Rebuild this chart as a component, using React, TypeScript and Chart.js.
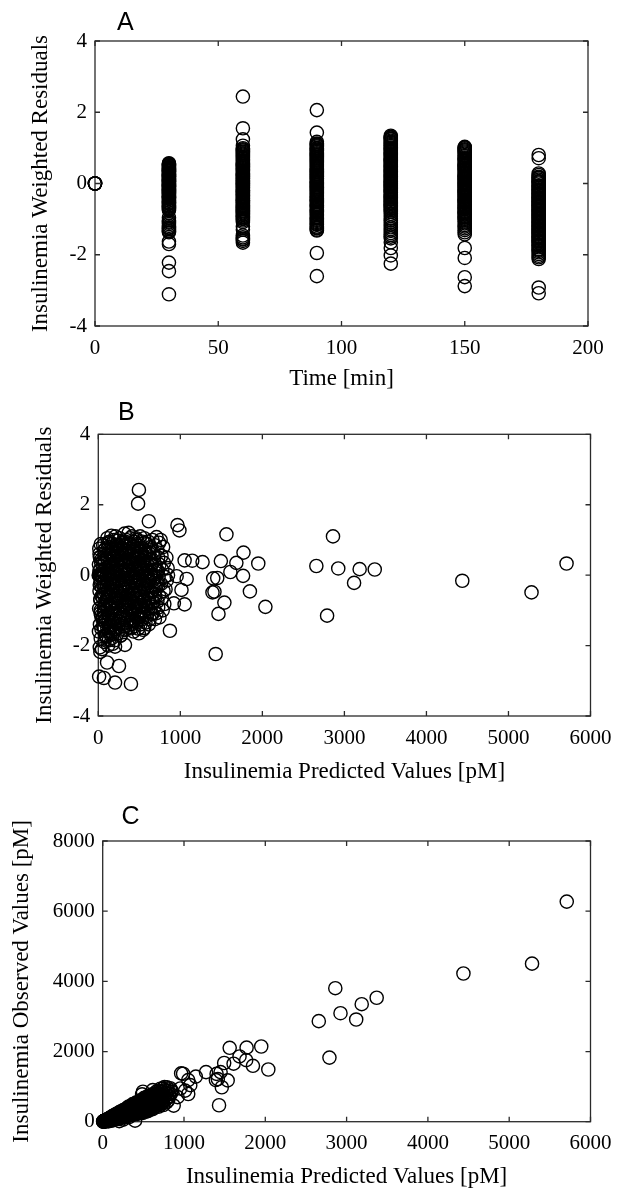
import React, { useEffect, useRef } from 'react';
import { Chart, registerables } from 'chart.js';

Chart.register(...registerables);

const SERIF = "'Liberation Serif', 'Times New Roman', Times, serif";
const SANS = "'Liberation Sans', Arial, Helvetica, sans-serif";

// ---------- Panel A: weighted residuals vs time ----------
const timeCategories = [0, 30, 60, 90, 120, 150, 180];
const resA0 = [0, 0, 0, 0, 0, 0];
const resA30 = [0.57, 0.55, 0.52, 0.5, 0.46, 0.44, 0.41, 0.38, 0.36, 0.33, 0.31, 0.27, 0.25, 0.22, 0.19, 0.17, 0.13, 0.11, 0.08, 0.05, 0.03, -0.01, -0.03, -0.06, -0.09, -0.11, -0.15, -0.17, -0.2, -0.24, -0.27, -0.3, -0.33, -0.37, -0.4, -0.44, -0.47, -0.52, -0.56, -0.61, -0.65, -0.7, -0.75, -0.96, -1.03, -1.07, -1.14, -1.19, -1.23, -1.28, -1.32, -1.37, -1.63, -1.7, -2.22, -2.46, -3.11,
  0.54, 0.49, 0.43, 0.39, 0.35, 0.29, 0.24, 0.2, 0.15, 0.1, 0.06, 0.01, -0.04, -0.08, -0.13, -0.18, -0.22, -0.25, -0.29, -0.35, -0.38, -0.42, -0.49, -0.54, -0.58, -0.63, -0.68, -0.72, -1.1, -1.25, -1.34];
const resA60 = [2.44, 1.55, 1.24, 1.06, 0.99, 0.93, 0.87, 0.84, 0.78, 0.75, 0.69, 0.66, 0.6, 0.57, 0.53, 0.48, 0.45, 0.4, 0.37, 0.32, 0.29, 0.25, 0.2, 0.17, 0.13, 0.08, 0.05, 0.01, -0.03, -0.07, -0.1, -0.15, -0.18, -0.22, -0.26, -0.29, -0.34, -0.38, -0.41, -0.46, -0.5, -0.55, -0.59, -0.64, -0.68, -0.73, -0.78, -0.84, -0.89, -0.95, -1.0, -1.08, -1.21, -1.3, -1.46, -1.51, -1.57, -1.61, -1.66,
  0.96, 0.9, 0.81, 0.72, 0.63, 0.55, 0.5, 0.43, 0.35, 0.27, 0.22, 0.15, 0.1, 0.03, -0.01, -0.05, -0.12, -0.2, -0.24, -0.31, -0.36, -0.43, -0.48, -0.53, -0.62, -0.66, -0.71, -0.76, -0.81, -0.87, -0.92, -0.98, -1.04, -1.55];
const resA90 = [2.06, 1.43, 1.17, 1.12, 1.07, 1.04, 0.98, 0.95, 0.91, 0.85, 0.82, 0.76, 0.73, 0.67, 0.64, 0.58, 0.55, 0.49, 0.46, 0.4, 0.37, 0.31, 0.28, 0.22, 0.18, 0.13, 0.1, 0.04, 0.0, -0.05, -0.09, -0.14, -0.19, -0.23, -0.29, -0.32, -0.38, -0.42, -0.47, -0.53, -0.57, -0.62, -0.68, -0.72, -0.78, -0.83, -0.89, -0.94, -0.99, -1.05, -1.11, -1.16, -1.21, -1.26, -1.32, -1.95, -2.6,
  1.1, 1.0, 0.93, 0.88, 0.79, 0.7, 0.61, 0.52, 0.43, 0.34, 0.25, 0.2, 0.15, 0.07, 0.02, -0.03, -0.11, -0.17, -0.26, -0.35, -0.45, -0.5, -0.6, -0.65, -0.75, -0.8, -0.86, -0.97, -1.02, -1.08, -1.14, -1.24, -1.3];
const resA120 = [1.34, 1.29, 1.24, 1.2, 1.14, 1.11, 1.05, 1.01, 0.97, 0.91, 0.88, 0.82, 0.77, 0.74, 0.68, 0.64, 0.58, 0.55, 0.49, 0.44, 0.41, 0.35, 0.3, 0.27, 0.21, 0.16, 0.13, 0.07, 0.02, -0.02, -0.08, -0.11, -0.17, -0.21, -0.26, -0.3, -0.36, -0.4, -0.46, -0.5, -0.56, -0.61, -0.66, -0.72, -0.79, -0.91, -0.99, -1.04, -1.16, -1.23, -1.33, -1.39, -1.49, -1.54, -1.65, -1.81, -2.02, -2.25,
  1.31, 1.26, 1.17, 1.08, 0.99, 0.94, 0.85, 0.8, 0.71, 0.66, 0.61, 0.52, 0.47, 0.38, 0.33, 0.24, 0.19, 0.1, 0.05, 0.0, -0.05, -0.14, -0.19, -0.24, -0.33, -0.38, -0.43, -0.53, -0.58, -0.64, -0.69, -0.75, -0.85, -1.1, -1.28, -1.44];
const resA150 = [1.03, 0.99, 0.93, 0.9, 0.84, 0.8, 0.73, 0.69, 0.62, 0.58, 0.52, 0.48, 0.42, 0.37, 0.33, 0.27, 0.21, 0.17, 0.12, 0.06, 0.02, -0.03, -0.09, -0.13, -0.19, -0.23, -0.27, -0.34, -0.38, -0.44, -0.48, -0.52, -0.59, -0.63, -0.69, -0.73, -0.8, -0.84, -0.91, -0.96, -1.02, -1.12, -1.21, -1.31, -1.43, -1.81, -2.09, -2.63, -2.88,
  1.01, 0.96, 0.87, 0.77, 0.71, 0.65, 0.55, 0.5, 0.45, 0.39, 0.3, 0.24, 0.19, 0.14, 0.09, 0.04, -0.01, -0.06, -0.11, -0.16, -0.21, -0.25, -0.31, -0.36, -0.41, -0.46, -0.5, -0.55, -0.61, -0.66, -0.71, -0.77, -0.82, -0.87, -0.94, -0.99, -1.07, -1.17, -1.26, -1.37];
const resA180 = [0.8, 0.71, 0.28, 0.19, 0.15, 0.07, 0.03, -0.05, -0.09, -0.16, -0.2, -0.27, -0.31, -0.38, -0.42, -0.49, -0.53, -0.6, -0.64, -0.71, -0.75, -0.82, -0.86, -0.93, -0.97, -1.04, -1.08, -1.15, -1.19, -1.26, -1.3, -1.37, -1.41, -1.48, -1.52, -1.59, -1.63, -1.71, -1.75, -1.84, -1.89, -1.98, -2.03, -2.12, -2.92, -3.08,
  0.24, 0.17, 0.11, 0.05, 0.0, -0.07, -0.12, -0.18, -0.23, -0.29, -0.34, -0.4, -0.45, -0.51, -0.56, -0.62, -0.67, -0.73, -0.78, -0.84, -0.89, -0.95, -1.0, -1.06, -1.11, -1.17, -1.22, -1.28, -1.33, -1.39, -1.44, -1.5, -1.55, -1.61, -1.66, -1.73, -1.79, -1.86, -1.93, -2.07];
const residualsByTime = [resA0, resA30, resA60, resA90, resA120, resA150, resA180];

// ---------- Panels B & C: predicted / residual / observed (same subjects, same order) ----------
const predicted = [
  5, 10, 15, 20, 25, 30, 35, 40, 12, 20, 8, 30, 15, 25, 10, 35, 20, 8, 30, 18, 25, 10, 68, 45,
  60, 75, 55, 90, 70, 85, 65, 95, 55, 80, 70, 92, 60, 85, 75, 107,
  110, 140, 120, 130, 105, 145, 125, 115, 135, 110, 145, 120, 130, 105, 140, 115, 135, 125, 110, 145, 130, 120,
  160, 190, 170, 180, 155, 195, 175, 165, 185, 155, 195, 170, 180, 160, 190, 175, 165, 185, 155, 195, 170, 204, 204,
  210, 240, 220, 230, 245, 215, 235, 225, 205, 240, 215, 230, 245, 220, 210, 235, 225, 245, 215, 235, 252,
  260, 290, 270, 280, 255, 295, 275, 265, 285, 255, 295, 270, 280, 260, 290, 275, 265, 285, 300, 270,
  320, 340, 310, 330, 345, 315, 335, 325, 305, 340, 320, 330, 310, 345, 325, 335, 315, 345, 325, 330,
  370, 390, 360, 380, 395, 365, 385, 375, 355, 390, 370, 380, 360, 395, 375, 385, 365, 395, 375, 398,
  410, 440, 420, 430, 445, 415, 435, 425, 405, 440, 420, 430, 410, 445, 425, 435, 415, 445, 430,
  460, 490, 470, 480, 455, 495, 475, 465, 485, 455, 495, 470, 480, 460, 490, 475, 465, 485, 495, 495, 485,
  510, 540, 520, 530, 545, 515, 535, 525, 505, 540, 520, 530, 510, 545, 525, 535, 515, 545,
  560, 590, 570, 580, 555, 595, 575, 565, 585, 555, 595, 570, 580, 560, 590, 575, 560,
  616, 610, 640, 620, 630, 645, 615, 635, 625, 605, 640, 620, 630, 610, 645, 625, 615,
  660, 690, 670, 680, 655, 695, 675, 665, 685, 655, 695, 670, 680, 660, 690,
  710, 740, 720, 730, 745, 715, 735, 725, 705, 740, 720, 730, 710, 745,
  760, 790, 770, 800, 780, 810, 765, 795, 775, 805, 785, 830, 845, 835, 850, 820,
  40, 65, 90, 115, 140, 165, 190, 215, 240, 265, 290, 50, 80, 105, 130, 155, 180, 205, 230, 255, 280,
  305, 330, 355, 380, 405, 430, 455, 480, 505, 530, 555, 580, 605, 630, 315, 365, 415, 465, 515, 565, 615,
  15, 35, 55, 25, 45, 65, 85, 30, 50, 70, 100, 125, 150, 175, 200, 20, 40, 60,
  30, 118, 214, 296, 392, 476, 566,
  78, 161, 258, 342, 438, 521, 618,
  22, 107, 203, 287, 384, 467, 563, 648,
  58, 153, 236, 333, 417, 513, 597, 693,
  14, 102, 187, 283, 366, 462, 548, 643, 727,
  52, 147, 232, 328, 412, 508, 592, 688,
  18, 107, 192, 288, 372, 468, 552, 648, 732,
  63, 147, 243, 327, 423, 507, 603, 687,
  24, 113, 197, 293, 377, 473, 557, 653,
  68, 152, 248, 332, 428, 512, 608,
  28, 123, 207, 303, 387, 483, 567,
  72, 168, 252, 348, 432, 528,
  38, 133, 217, 313, 397,
  93, 177, 273,
  873, 921, 955, 965, 989, 1014, 1052, 1052, 1077, 1145, 1271, 1392, 1401, 1416, 1431, 1450, 1465, 1494,
  1537, 1562, 1610, 1683, 1765, 1770, 1848, 1950, 2037, 2658, 2789, 2861, 2925, 3118, 3186, 3370, 4437, 5281, 5708,
];
const residual = [
  0, 0, 0, 0, 0, 0, 0, 0, 0.75, 0.5, 0.3, -0.2, -0.45, -0.7, -0.95, -1.15, -1.4, -1.6, -1.8, -2.05, -2.18, -2.88, -2.92, -2.1,
  0.85, 0.6, 0.4, 0.2, 0.05, -0.1, -0.3, -0.5, -0.65, -0.85, -1.05, -1.25, -1.45, -1.7, -1.9, -2.48,
  1.05, 0.95, 0.8, 0.65, 0.5, 0.38, 0.25, 0.12, 0, -0.12, -0.25, -0.4, -0.55, -0.7, -0.85, -1.0, -1.15, -1.32, -1.5, -1.68, -1.85, -2.0,
  1.12, 1.0, 0.88, 0.72, 0.6, 0.47, 0.33, 0.2, 0.08, -0.05, -0.18, -0.3, -0.45, -0.6, -0.75, -0.92, -1.08, -1.25, -1.42, -1.6, -1.78, -2.03, -3.05,
  1.1, 0.98, 0.85, 0.7, 0.55, 0.42, 0.3, 0.15, 0.02, -0.1, -0.22, -0.38, -0.5, -0.65, -0.8, -0.95, -1.12, -1.3, -1.48, -1.65, -2.58,
  1.05, 0.92, 0.78, 0.62, 0.5, 0.37, 0.22, 0.1, -0.05, -0.17, -0.3, -0.45, -0.58, -0.72, -0.88, -1.03, -1.2, -1.38, -1.55, -1.72,
  1.18, 1.0, 0.85, 0.7, 0.55, 0.4, 0.28, 0.12, 0.0, -0.12, -0.28, -0.42, -0.57, -0.7, -0.85, -1.0, -1.18, -1.35, -1.98, -1.55,
  1.2, 1.05, 0.9, 0.75, 0.6, 0.45, 0.3, 0.15, 0.02, -0.1, -0.25, -0.4, -0.55, -0.68, -0.82, -0.98, -1.15, -1.3, -1.48, -3.09,
  1.1, 0.95, 0.8, 0.65, 0.5, 0.35, 0.2, 0.05, -0.08, -0.2, -0.35, -0.5, -0.65, -0.8, -0.95, -1.1, -1.28, -1.45, -1.6,
  1.05, 0.9, 0.75, 0.6, 0.45, 0.3, 0.15, 0.0, -0.12, -0.28, -0.42, -0.57, -0.72, -0.88, -1.02, -1.2, -1.35, -1.52, -1.65, 2.42, 2.03,
  1.1, 0.95, 0.78, 0.6, 0.42, 0.28, 0.12, -0.02, -0.18, -0.32, -0.48, -0.62, -0.78, -0.92, -1.08, -1.25, -1.4, -1.55,
  1.05, 0.88, 0.7, 0.5, 0.35, 0.2, 0.05, -0.1, -0.25, -0.4, -0.55, -0.7, -0.88, -1.02, -1.18, -1.35, -1.5,
  1.53, 0.95, 0.8, 0.62, 0.45, 0.28, 0.12, -0.02, -0.18, -0.32, -0.48, -0.65, -0.8, -0.95, -1.1, -1.25, -1.4,
  1.0, 0.85, 0.68, 0.5, 0.32, 0.15, 0.0, -0.15, -0.32, -0.48, -0.62, -0.78, -0.95, -1.1, -1.25,
  1.08, 0.92, 0.72, 0.5, 0.3, 0.12, -0.05, -0.22, -0.4, -0.58, -0.75, -0.92, -1.08, -1.2,
  1.0, 0.8, 0.55, 0.35, 0.15, -0.05, -0.25, -0.45, -0.65, -0.82, -1.0, 0.5, 0.2, -0.15, 0.0, -0.4,
  0.45, -0.2, 0.75, -0.6, 0.15, -1.3, 0.55, -0.45, 0.85, -1.1, 0.05, -1.2, 0.35, -0.3, 0.9, -0.95, 0.25, -1.55, 0.6, -0.7, 0.45,
  -0.35, 0.95, -0.9, 0.4, -1.4, 0.8, -0.15, 0.5, -1.15, 0.2, -0.75, 0.65, -0.05, 0.35, -1.45, 0.05, -0.55, 1.0, 0.7, -0.35, -0.7,
  0.6, 0.35, 0.1, -0.1, -0.35, -0.55, -0.8, -1.0, -1.25, -1.5, -1.75, -1.6, -1.45, -1.95, -1.85, 0.15, -0.6, -1.2,
  0.88, 0.93, 0.86, 0.95, 0.9, 0.84, 0.92,
  0.72, 0.67, 0.74, 0.69, 0.71, 0.66, 0.73,
  0.52, 0.47, 0.53, 0.49, 0.46, 0.54, 0.5, 0.47,
  0.31, 0.27, 0.33, 0.28, 0.32, 0.26, 0.31, 0.29,
  0.12, 0.08, 0.11, 0.07, 0.13, 0.09, 0.1, 0.06, 0.12,
  -0.08, -0.12, -0.09, -0.13, -0.07, -0.11, -0.1, -0.08,
  -0.28, -0.33, -0.29, -0.27, -0.32, -0.3, -0.26, -0.31, -0.29,
  -0.52, -0.48, -0.51, -0.47, -0.53, -0.49, -0.5, -0.54,
  -0.68, -0.72, -0.7, -0.66, -0.73, -0.69, -0.71, -0.67,
  -0.91, -0.87, -0.92, -0.88, -0.9, -0.86, -0.93,
  -1.08, -1.12, -1.09, -1.13, -1.07, -1.11, -1.1,
  -1.31, -1.27, -1.32, -1.28, -1.3, -1.26,
  -1.52, -1.47, -1.53, -1.49, -1.51,
  -1.72, -1.68, -1.71,
  -1.58, -0.8, -0.03, 1.42, 1.27, -0.42, 0.42, -0.83, -0.11, 0.41, 0.37, -0.49, -0.09, -0.47, -2.24, -0.08, -1.1, 0.4,
  -0.78, 1.16, 0.09, 0.35, -0.02, 0.64, -0.46, 0.33, -0.9, 0.26, -1.15, 1.1, 0.19, -0.22, 0.17, 0.16, -0.16, -0.49, 0.33,
];
const observed = [
  5, 10, 15, 20, 25, 30, 35, 40, 15, 23, 9, 28, 13, 20, 7, 23, 12, 4, 14, 7, 9, 1, 8, 17,
  75, 89, 62, 95, 71, 82, 59, 81, 44, 60, 48, 58, 34, 42, 32, 27,
  145, 180, 149, 155, 121, 162, 134, 119, 135, 106, 134, 106, 109, 83, 104, 81, 88, 76, 61, 72, 58, 48,
  214, 247, 215, 219, 183, 222, 192, 175, 189, 153, 184, 155, 156, 131, 147, 127, 112, 116, 89, 101, 79, 80, 17,
  279, 311, 276, 278, 285, 242, 256, 235, 206, 233, 201, 204, 208, 177, 160, 168, 149, 149, 120, 119, 57,
  342, 370, 333, 332, 293, 328, 293, 273, 281, 242, 268, 234, 231, 204, 213, 190, 170, 167, 161, 131,
  433, 442, 389, 399, 402, 353, 363, 337, 305, 328, 293, 288, 257, 273, 242, 235, 203, 205, 132, 177,
  503, 513, 457, 466, 466, 414, 420, 392, 357, 378, 342, 334, 301, 314, 283, 272, 239, 241, 209, 29,
  545, 565, 521, 514, 512, 459, 461, 431, 395, 414, 376, 366, 330, 338, 304, 291, 256, 251, 224,
  605, 622, 576, 566, 516, 540, 496, 465, 468, 417, 433, 390, 376, 339, 340, 304, 277, 264, 250, 854, 780,
  678, 694, 642, 625, 614, 558, 554, 522, 478, 488, 445, 431, 391, 395, 355, 334, 299, 292,
  736, 746, 690, 667, 613, 631, 584, 548, 541, 488, 497, 450, 427, 389, 381, 342, 308,
  899, 784, 794, 735, 715, 699, 637, 631, 591, 547, 548, 499, 479, 436, 432, 391, 357,
  858, 866, 807, 782, 718, 726, 675, 635, 619, 561, 566, 513, 486, 442, 431,
  940, 944, 876, 840, 812, 741, 724, 677, 620, 611, 558, 529, 480, 477,
  988, 980, 897, 884, 815, 798, 708, 688, 624, 607, 550, 955, 896, 797, 850, 722,
  45, 61, 110, 94, 146, 101, 221, 186, 301, 178, 294, 32, 88, 96, 165, 111, 194, 110, 271, 201, 318,
  273, 424, 259, 426, 235, 533, 435, 552, 331, 562, 430, 693, 596, 696, 178, 370, 347, 605, 623, 506, 486,
  18, 39, 57, 24, 40, 54, 65, 21, 31, 39, 48, 65, 85, 73, 89, 21, 33, 38,
  38, 151, 269, 380, 498, 596, 722,
  95, 193, 315, 413, 531, 624, 753,
  25, 122, 235, 329, 437, 543, 647, 739,
  63, 165, 259, 361, 457, 553, 653, 753,
  15, 104, 193, 289, 380, 474, 564, 655, 753,
  51, 142, 226, 315, 403, 491, 574, 671,
  16, 96, 175, 265, 336, 426, 509, 588, 668,
  53, 126, 206, 281, 356, 432, 513, 576,
  19, 89, 156, 235, 294, 375, 438, 522,
  49, 112, 180, 244, 312, 380, 438,
  19, 82, 139, 200, 263, 322, 380,
  44, 104, 152, 214, 264, 328,
  21, 74, 117, 173, 217,
  45, 88, 133,
  459, 700, 946, 1376, 1366, 886, 1185, 790, 1041, 1286, 1412, 1187, 1363, 1216, 469, 1415, 982, 1673,
  1177, 2106, 1653, 1860, 1754, 2110, 1593, 2143, 1487, 2865, 1827, 3805, 3092, 2912, 3349, 3532, 4224, 4505, 6273,
];

// ---------- axes ----------
const ticksTime = [0, 50, 100, 150, 200];
const ticksResidual = [-4, -2, 0, 2, 4];
const ticksPredicted = [0, 1000, 2000, 3000, 4000, 5000, 6000];
const ticksObserved = [0, 2000, 4000, 6000, 8000];

const W = 623;

const framePlugin = {
  id: 'frameTicks',
  beforeDatasetsDraw(chart: any) {
    const { ctx, chartArea } = chart;
    const { left, right, top, bottom } = chartArea;
    const xs = chart.scales.x;
    const ys = chart.scales.y;
    const L = 5;
    ctx.save();
    ctx.strokeStyle = '#2a2a2a';
    ctx.lineWidth = 1.3;
    ctx.strokeRect(left, top, right - left, bottom - top);
    ctx.beginPath();
    xs.ticks.forEach((t: any) => {
      const px = xs.getPixelForValue(t.value);
      ctx.moveTo(px, bottom);
      ctx.lineTo(px, bottom - L);
      ctx.moveTo(px, top);
      ctx.lineTo(px, top + L);
    });
    ys.ticks.forEach((t: any) => {
      const py = ys.getPixelForValue(t.value);
      ctx.moveTo(left, py);
      ctx.lineTo(left + L, py);
      ctx.moveTo(right, py);
      ctx.lineTo(right - L, py);
    });
    ctx.stroke();
    ctx.restore();
  },
};

type Panel = {
  top: number;
  height: number;
  area: { left: number; right: number; top: number; bottom: number };
  xMin: number; xMax: number; xTicks: number[];
  yMin: number; yMax: number; yTicks: number[];
  xTitle: string; yTitle: string;
  xTitlePad: number; yTitlePad: number;
  points: { x: number; y: number }[];
};

const pointsA = timeCategories.flatMap((t, i) => residualsByTime[i].map((r) => ({ x: t, y: r })));
const pointsB = predicted.map((p, i) => ({ x: p, y: residual[i] }));
const pointsC = predicted.map((p, i) => ({ x: p, y: observed[i] }));

const panels: Panel[] = [
  {
    top: 0, height: 400,
    area: { left: 95, right: 588, top: 41, bottom: 326 },
    xMin: 0, xMax: 200, xTicks: ticksTime,
    yMin: -4, yMax: 4, yTicks: ticksResidual,
    xTitle: 'Time [min]', yTitle: 'Insulinemia Weighted Residuals',
    xTitlePad: 10, yTitlePad: 29,
    points: pointsA,
  },
  {
    top: 390, height: 400,
    area: { left: 98.3, right: 590.7, top: 44.3, bottom: 326 },
    xMin: 0, xMax: 6000, xTicks: ticksPredicted,
    yMin: -4, yMax: 4, yTicks: ticksResidual,
    xTitle: 'Insulinemia Predicted Values [pM]', yTitle: 'Insulinemia Weighted Residuals',
    xTitlePad: 7, yTitlePad: 33,
    points: pointsB,
  },
  {
    top: 780, height: 408,
    area: { left: 102.7, right: 593, top: 61, bottom: 341.7 },
    xMin: 0, xMax: 6000, xTicks: ticksPredicted,
    yMin: 0, yMax: 8000, yTicks: ticksObserved,
    xTitle: 'Insulinemia Predicted Values [pM]', yTitle: 'Insulinemia Observed Values [pM]',
    xTitlePad: 0, yTitlePad: 10,
    points: pointsC,
  },
];

function PanelChart({ panel }: { panel: Panel }) {
  const ref = useRef<HTMLCanvasElement | null>(null);
  useEffect(() => {
    if (!ref.current) return;
    const { area, height } = panel;
    const tickFont = { family: SERIF, size: 21, lineHeight: 1 };
    const titleFont = { family: SERIF, size: 23, lineHeight: 1 };
    const chart = new Chart(ref.current, {
      type: 'scatter',
      data: {
        datasets: [
          {
            data: panel.points,
            pointStyle: 'circle',
            pointRadius: 6.6,
            pointHoverRadius: 6.6,
            pointBorderWidth: 1.4,
            borderColor: '#000',
            backgroundColor: 'rgba(0,0,0,0)',
            pointBorderColor: '#000',
            pointBackgroundColor: 'rgba(0,0,0,0)',
            showLine: false,
            clip: false,
          } as any,
        ],
      },
      options: {
        responsive: false,
        animation: false,
        devicePixelRatio: 1,
        events: [],
        layout: { padding: { left: 0, top: area.top, right: W - area.right, bottom: 0 } },
        plugins: { legend: { display: false }, tooltip: { enabled: false } },
        scales: {
          x: {
            type: 'linear',
            position: 'bottom',
            min: panel.xMin,
            max: panel.xMax,
            afterBuildTicks: (s: any) => { s.ticks = panel.xTicks.map((v) => ({ value: v })); },
            afterFit: (s: any) => { s.height = height - area.bottom; },
            grid: { display: false, drawTicks: false },
            border: { display: false },
            ticks: {
              color: '#000', font: tickFont, padding: 11.5, maxRotation: 0, autoSkip: false,
              callback: (v: any) => String(v),
            },
            title: {
              display: true, text: panel.xTitle, color: '#000', font: titleFont,
              padding: { top: 0, bottom: panel.xTitlePad },
            },
          },
          y: {
            type: 'linear',
            position: 'left',
            min: panel.yMin,
            max: panel.yMax,
            afterBuildTicks: (s: any) => { s.ticks = panel.yTicks.map((v) => ({ value: v })); },
            afterFit: (s: any) => { s.width = area.left; },
            grid: { display: false, drawTicks: false },
            border: { display: false },
            ticks: {
              color: '#000', font: tickFont, padding: 8, autoSkip: false,
              callback: (v: any) => String(v),
            },
            title: {
              display: true, text: panel.yTitle, color: '#000', font: titleFont,
              padding: { top: panel.yTitlePad, bottom: 0 },
            },
          },
        },
      } as any,
      plugins: [framePlugin],
    });
    return () => chart.destroy();
  }, [panel]);
  return (
    <canvas
      ref={ref}
      width={W}
      height={panel.height}
      style={{ position: 'absolute', left: 0, top: panel.top, width: W, height: panel.height }}
    />
  );
}

const letterStyle = (left: number, top: number): React.CSSProperties => ({
  position: 'absolute', left, top, fontFamily: SANS, fontSize: 25, lineHeight: '25px', color: '#000',
});

export default function App() {
  return (
    <div style={{ position: 'absolute', left: 0, top: 0, width: W, height: 1188, background: '#fff', overflow: 'hidden' }}>
      {panels.map((p, i) => <PanelChart key={i} panel={p} />)}
      <div style={letterStyle(117, 9)}>A</div>
      <div style={letterStyle(118, 398.7)}>B</div>
      <div style={letterStyle(121.5, 802.7)}>C</div>
    </div>
  );
}
